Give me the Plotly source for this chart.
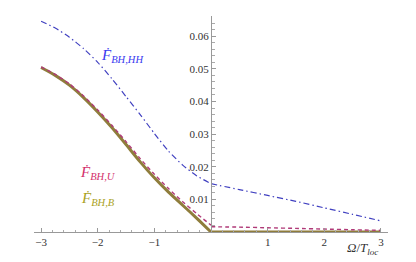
import plotly.graph_objects as go

# data
x_left = [-3.0, -2.75, -2.5, -2.25, -2.0, -1.75, -1.5, -1.25, -1.0, -0.75, -0.5, -0.25, 0.0]
x_right = [0.0, 0.5, 1.0, 1.5, 2.0, 2.5, 3.0]

hh_left = [0.0646, 0.0625, 0.0597, 0.0562, 0.0520, 0.0470, 0.0415, 0.0360, 0.0302, 0.0248, 0.0205, 0.0172, 0.0148]
hh_right = [0.0148, 0.0130, 0.0112, 0.0094, 0.0074, 0.0054, 0.0034]

u_left = [0.0506, 0.0483, 0.0454, 0.0417, 0.0374, 0.0327, 0.0277, 0.0225, 0.0177, 0.0133, 0.0093, 0.0056, 0.0021]
u_right = [0.0016, 0.0015, 0.0013, 0.0011, 0.0009, 0.0007, 0.0005]

b_left = [0.0504, 0.0480, 0.0450, 0.0412, 0.0368, 0.0320, 0.0268, 0.0215, 0.0166, 0.0122, 0.0082, 0.0042, 0.0]
b_right = [0.0, 0.0, 0.0, 0.0, 0.0, 0.0, 0.0]

x_ticks = [-3, -2, -1, 1, 2, 3]
x_ticklabels = ["\u22123", "\u22122", "\u22121", "1", "2", "3"]
y_ticks = [0.01, 0.02, 0.03, 0.04, 0.05, 0.06]
y_ticklabels = ["0.01", "0.02", "0.03", "0.04", "0.05", "0.06"]

blue = "#4040c0"
blue_txt = "#3a3af0"
mag = "#b03a78"
mag_txt = "#d3306c"
olive = "#8f7d3c"
olive_txt = "#aaa21e"

fig = go.Figure()
fig.add_trace(go.Scatter(x=x_left, y=b_left, mode="lines", line=dict(color=olive, width=3, shape="spline", smoothing=0.6)))
fig.add_trace(go.Scatter(x=x_right, y=b_right, mode="lines", line=dict(color=olive, width=3)))
fig.add_trace(go.Scatter(x=x_left, y=u_left, mode="lines", line=dict(color=mag, width=1.4, dash="4px,3px", shape="spline", smoothing=0.6)))
fig.add_trace(go.Scatter(x=x_right, y=u_right, mode="lines", line=dict(color=mag, width=1.4, dash="4px,3px", shape="spline", smoothing=0.6)))
fig.add_trace(go.Scatter(x=x_left, y=hh_left, mode="lines", line=dict(color=blue, width=1.2, dash="6px,3px,1.5px,3px", shape="spline", smoothing=0.6)))
fig.add_trace(go.Scatter(x=x_right, y=hh_right, mode="lines", line=dict(color=blue, width=1.2, dash="6px,3px,1.5px,3px", shape="spline", smoothing=0.6)))

font_t = "Liberation Serif"
fig.update_layout(
    width=416, height=262,
    margin=dict(l=34, r=28, t=16, b=30),
    paper_bgcolor="white", plot_bgcolor="white",
    showlegend=False,
    font=dict(family=font_t, size=10, color="#333333"),
    xaxis=dict(range=[-3.125, 3.125], tickvals=x_ticks, ticktext=x_ticklabels,
               ticks="inside", ticklen=4, tickcolor="#999999", showgrid=False, zeroline=False,
               showline=True, linecolor="#999999", linewidth=1,
               minor=dict(dtick=0.2, tick0=0, ticks="inside", ticklen=2.5, tickcolor="#aaaaaa", showgrid=False),
               tickfont=dict(family=font_t, size=11, color="#333333")),
    yaxis=dict(range=[0, 0.0662], tickvals=y_ticks, ticktext=y_ticklabels,
               anchor="free", position=0.5, side="left",
               ticks="inside", ticklen=4, tickcolor="#999999", showgrid=False, zeroline=False,
               showline=True, linecolor="#999999", linewidth=1,
               minor=dict(dtick=0.002, tick0=0, ticks="inside", ticklen=2.5, tickcolor="#aaaaaa", showgrid=False),
               tickfont=dict(family=font_t, size=11, color="#333333")),
)

def lab(txt, sub, x, y, color):
    fig.add_annotation(x=x, y=y, xref="x", yref="y", showarrow=False,
                       text=f"<i>{txt}</i><sub><i>{sub}</i></sub>",
                       font=dict(family=font_t, size=15, color=color))

lab("\u1E1E", "BH,HH", -1.57, 0.0538, blue_txt)
lab("\u1E1E", "BH,U", -1.99, 0.0182, mag_txt)
lab("\u1E1E", "BH,B", -1.99, 0.0102, olive_txt)

fig.add_annotation(x=2.68, y=-0.075, xref="x", yref="paper", yanchor="middle", showarrow=False,
                   text="<i>\u03A9</i>/<i>T</i><sub><i>loc</i></sub>",
                   font=dict(family=font_t, size=13, color="#333333"))

fig.write_html("out.html", config={"displayModeBar": False},
               post_script="document.body.style.margin='0';")
